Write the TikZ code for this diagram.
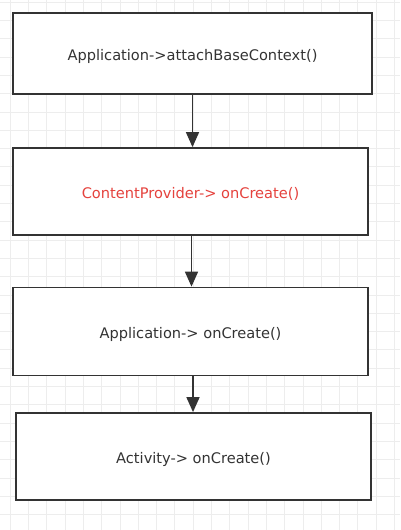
\documentclass[tikz,border=0pt]{standalone}
\usepackage{fontspec}
\setmainfont{DejaVu Sans}
\usetikzlibrary{arrows.meta}

\definecolor{inkgray}{HTML}{333333}
\definecolor{hotred}{HTML}{E5423D}

\tikzset{
    stagebox/.style={draw=inkgray, line width=1.8pt, fill=white, minimum width=357pt,
        minimum height=84pt, inner sep=0pt, text height=13pt, text depth=0pt,
        text=inkgray, font=\fontsize{14.6}{17}\selectfont},
    flow/.style={draw=inkgray, line width=1.6pt, -{Triangle[length=15pt,width=13pt]}},
    gridline/.style={draw=gray!14, line width=0.6pt}
}

\begin{document}
\begin{tikzpicture}[x=1pt, y=-1pt]
        \useasboundingbox (0, 0) rectangle (400, 530);
        \fill[white] (0, 0) rectangle (400, 530);

        % Grid paper
        \foreach \i in {0,...,21} {
            \draw[gridline] (10+\i*18.3, 0) -- (10+\i*18.3, 530);
        }
        \foreach \j in {0,...,28} {
            \draw[gridline] (0, 2+\j*18.3) -- (400, 2+\j*18.3);
        }

        % Stages
        \node[stagebox, minimum width=359pt, minimum height=81pt] (attach) at (192.5, 53.5) {Application->attachBaseContext()};
        \node[stagebox, minimum width=355pt, minimum height=87pt, text=hotred] (provider) at (190.5, 191.5) {ContentProvider-> onCreate()};
        \node[stagebox, minimum width=355pt, minimum height=88pt] (appcreate) at (190.5, 331.5) {Application-> onCreate()};
        \node[stagebox, minimum width=355pt, minimum height=87pt] (activity) at (193.5, 456.5) {Activity-> onCreate()};

        % Arrows
        \draw[flow] (attach.south) -- (attach.south |- provider.north);
        \draw[flow] (191.5, 235) coordinate (p2) -- (p2 |- appcreate.north);
        \draw[flow] (193, 375.5) coordinate (p3) -- (p3 |- activity.north);

    \end{tikzpicture}
\end{document}
